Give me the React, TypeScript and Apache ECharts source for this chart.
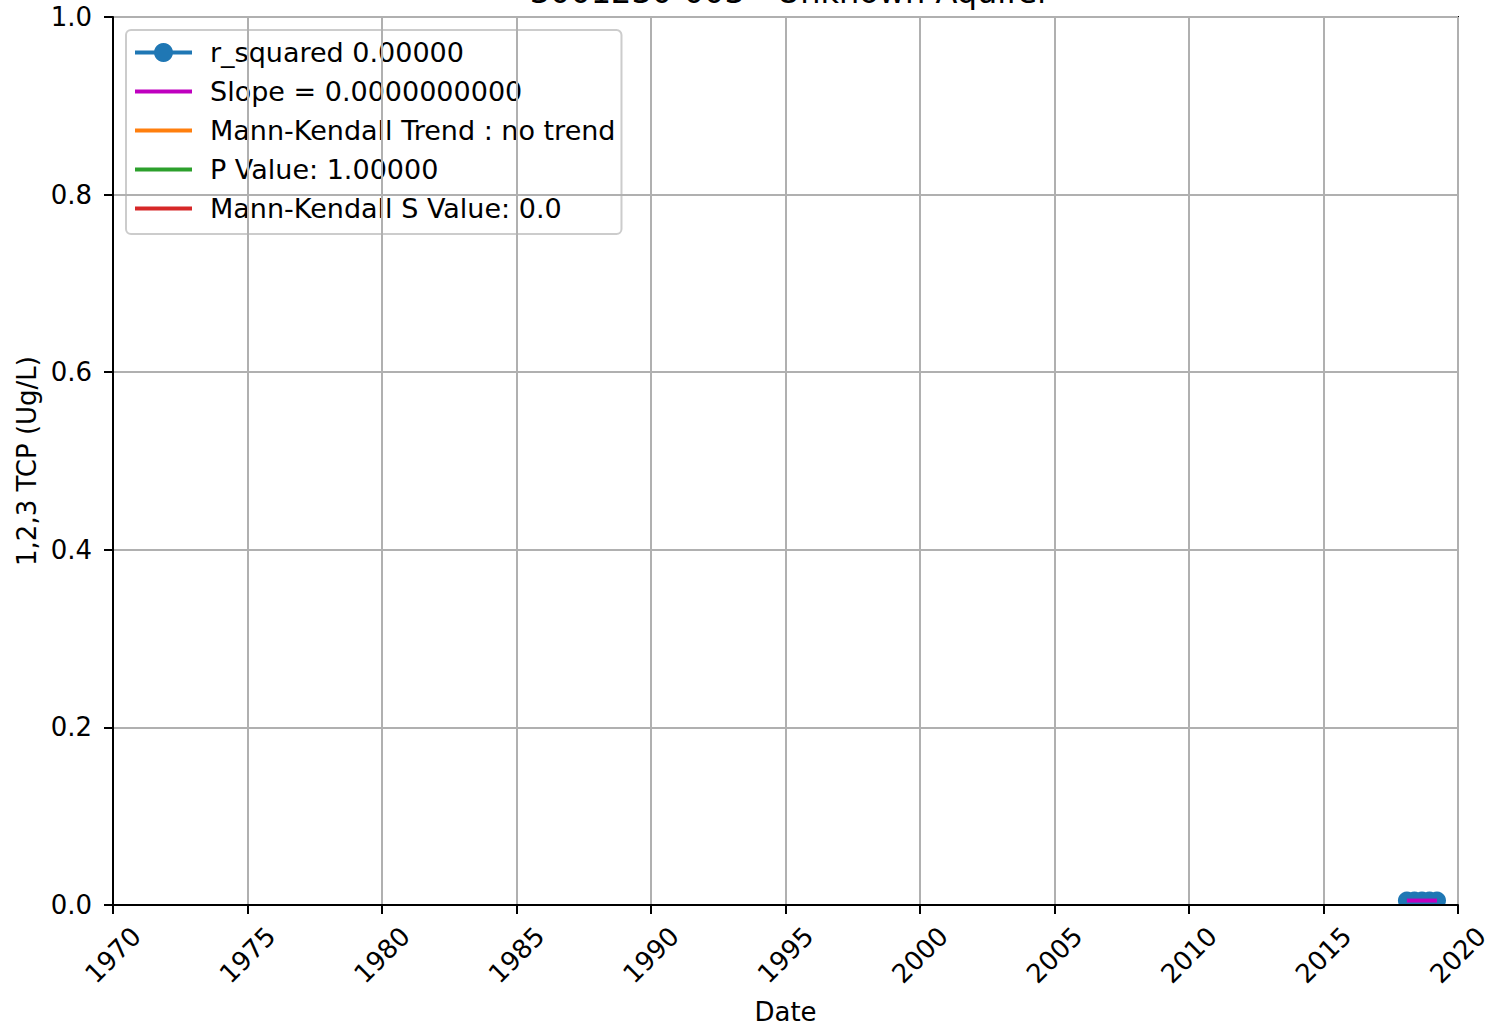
import React, { useEffect, useRef } from "react";
import * as echarts from "echarts";

const titleText = "3001230-003 - Unknown Aquifer";
const sampleYears = [2018.1, 2018.38, 2018.66, 2018.94, 2019.22];
const sampleValues = [0.005, 0.005, 0.005, 0.005, 0.005];
const slopeYears = [2018.1, 2019.22];
const slopeValues = [0.005, 0.005];
const legendNames = [
  "r_squared 0.00000",
  "Slope = 0.0000000000",
  "Mann-Kendall Trend : no trend",
  "P Value: 1.00000",
  "Mann-Kendall S Value: 0.0",
];
const colors = ["#1f77b4", "#bf00bf", "#ff7f0e", "#2ca02c", "#d62728"];

const FONT = "DejaVu Sans";
const ICON_MARKER_LINE =
  "path://M0,7.5 L57,7.5 L57,11.5 L0,11.5 Z M28.5,0 A9.5,9.5 0 1 1 28.49,0 Z";
const ICON_LINE = "path://M0,0 L57,0 L57,4 L0,4 Z";

export default function App() {
  const ref = useRef<HTMLDivElement>(null);
  useEffect(() => {
    document.body.style.margin = "0";
    const chart = echarts.init(ref.current!, null, { renderer: "svg" });
    chart.setOption({
      animation: false,
      backgroundColor: "#fff",
      textStyle: { fontFamily: FONT },
      title: {
        text: titleText,
        left: 785,
        textAlign: "center",
        top: -29,
        textStyle: { fontFamily: FONT, fontSize: 32, fontWeight: "normal", color: "#000" },
      },
      grid: {
        left: 113,
        top: 17,
        right: 30,
        bottom: 122,
        containLabel: false,
        outerBoundsMode: "none",
        show: true,
        borderColor: "#000",
        borderWidth: 2,
        backgroundColor: "transparent",
      },
      legend: {
        orient: "vertical",
        left: 126,
        top: 30,
        data: legendNames.map((n, i) => ({ name: n, icon: i === 0 ? ICON_MARKER_LINE : ICON_LINE })),
        symbolKeepAspect: true,
        itemWidth: 57,
        itemHeight: 26,
        itemGap: 12,
        padding: [9, 6, 12, 9],
        backgroundColor: "rgba(255,255,255,0.8)",
        borderColor: "#cccccc",
        borderWidth: 2,
        borderRadius: 5,
        textStyle: { fontFamily: FONT, fontSize: 27, color: "#000", lineHeight: 26, padding: [0, 0, 0, 13] },
      },
      xAxis: {
        type: "value",
        min: 1970,
        max: 2020,
        interval: 5,
        z: 10,
        name: "Date",
        nameLocation: "middle",
        nameGap: 94,
        nameTextStyle: { fontFamily: FONT, fontSize: 26, color: "#000" },
        axisLine: { show: true, lineStyle: { color: "#000", width: 2 } },
        axisTick: { show: true, inside: false, length: 9, lineStyle: { color: "#000", width: 2 } },
        axisLabel: {
          rotate: 45,
          align: "center",
          verticalAlign: "middle",
          margin: 50,
          fontFamily: FONT,
          fontSize: 26,
          color: "#000",
          formatter: (v: number) => String(Math.round(v)),
        },
        splitLine: { show: true, lineStyle: { color: "#b0b0b0", width: 2 } },
      },
      yAxis: {
        type: "value",
        min: 0,
        max: 1,
        interval: 0.2,
        z: 10,
        name: "1,2,3 TCP (Ug/L)",
        nameLocation: "middle",
        nameRotate: 90,
        nameGap: 73,
        nameTextStyle: { fontFamily: FONT, fontSize: 26, color: "#000" },
        axisLine: { show: true, lineStyle: { color: "#000", width: 2 } },
        axisTick: { show: true, inside: false, length: 9, lineStyle: { color: "#000", width: 2 } },
        axisLabel: {
          margin: 21,
          fontFamily: FONT,
          fontSize: 26,
          color: "#000",
          formatter: (v: number) => v.toFixed(1),
        },
        splitLine: { show: true, lineStyle: { color: "#b0b0b0", width: 2 } },
      },
      graphic: [
        {
          type: "rect",
          z: 5,
          shape: { x: 1385, y: 906, width: 68, height: 16 },
          style: { fill: "#fff" },
        },
      ],
      series: [
        {
          name: legendNames[0],
          type: "line",
          data: sampleYears.map((y, i) => [y, sampleValues[i]]),
          symbol: "circle",
          symbolSize: 18,
          showSymbol: true,
          itemStyle: { color: colors[0] },
          lineStyle: { color: colors[0], width: 4 },
          z: 2,
        },
        {
          name: legendNames[1],
          type: "line",
          data: slopeYears.map((y, i) => [y, slopeValues[i]]),
          symbol: "none",
          itemStyle: { color: colors[1] },
          lineStyle: { color: colors[1], width: 4 },
          z: 3,
        },
        {
          name: legendNames[2],
          type: "line",
          data: [],
          symbol: "none",
          itemStyle: { color: colors[2] },
          lineStyle: { color: colors[2], width: 4 },
        },
        {
          name: legendNames[3],
          type: "line",
          data: [],
          symbol: "none",
          itemStyle: { color: colors[3] },
          lineStyle: { color: colors[3], width: 4 },
        },
        {
          name: legendNames[4],
          type: "line",
          data: [],
          symbol: "none",
          itemStyle: { color: colors[4] },
          lineStyle: { color: colors[4], width: 4 },
        },
      ],
    });
    return () => chart.dispose();
  }, []);
  return <div ref={ref} style={{ width: 1488, height: 1027 }} />;
}
